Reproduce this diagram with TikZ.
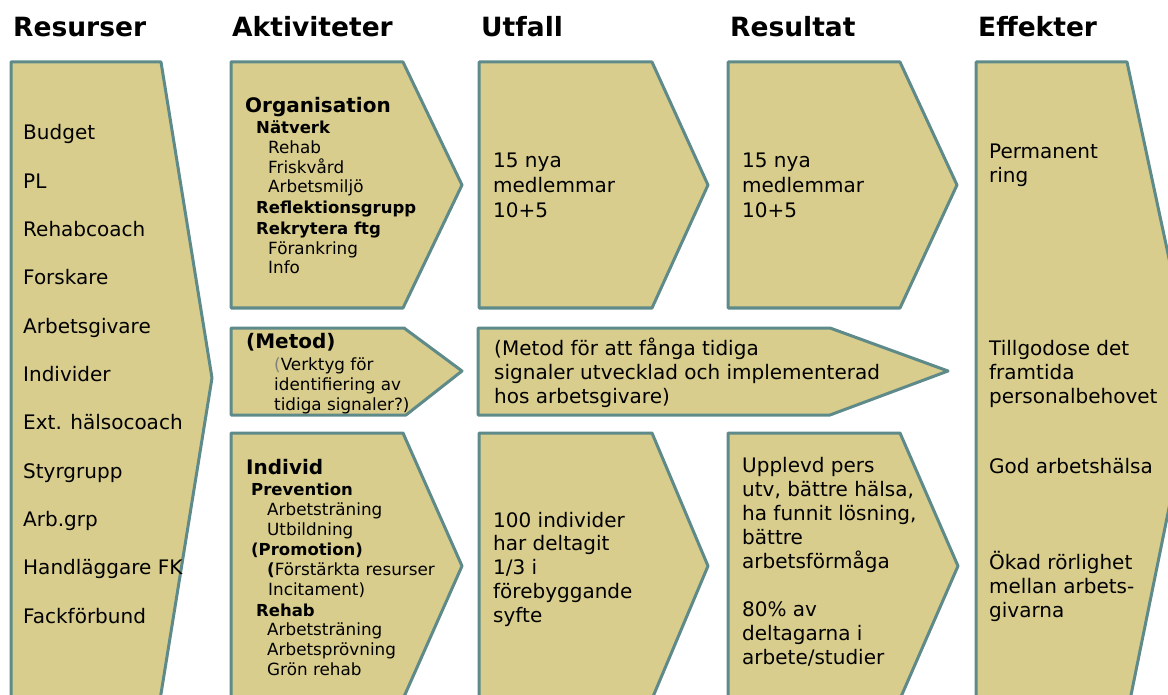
\documentclass[tikz,border=0pt]{standalone}
\usepackage{fontspec}
\setmainfont{DejaVu Sans}
\usepackage{tikz}
\definecolor{fyll}{RGB}{216,205,140}
\definecolor{ram}{RGB}{94,138,138}

\begin{document}
\begin{tikzpicture}[x=1pt,y=-1pt,
	pil/.style={fill=fyll,draw=ram,line width=3pt,line join=round},
	rubrik/.style={anchor=base west,inner sep=0pt,font=\fontsize{26.5}{30}\selectfont\bfseries},
	stor/.style={anchor=base west,inner sep=0pt,font=\fontsize{20}{24}\selectfont},
	storfet/.style={anchor=base west,inner sep=0pt,font=\fontsize{20}{24}\selectfont\bfseries},
	fet/.style={anchor=base west,inner sep=0pt,font=\fontsize{16.5}{20}\selectfont\bfseries},
	liten/.style={anchor=base west,inner sep=0pt,font=\fontsize{16.8}{20}\selectfont}]
				\useasboundingbox (0,0) rectangle (1168,695);
				\clip (0,0) rectangle (1168,695);
				\path (13,37) node[rubrik] (resurser) {Resurser}
				(232,37) node[rubrik] (aktiviteter) {Aktiviteter}
				(481,37) node[rubrik] (utfall) {Utfall}
				(730,37) node[rubrik] (resultat) {Resultat}
				(978,37) node[rubrik] (effekter) {Effekter};
				\draw[pil] (11,62) -- (161,62) -- (212,378) -- (160,700) -- (11,700) -- cycle;
				\draw[pil] (231,62) -- (403,62) -- (462,185) -- (403,308) -- (231,308) -- cycle;
				\draw[pil] (231,328) -- (404,328) -- (462,371) -- (406,415) -- (231,415) -- cycle;
				\draw[pil] (231,433) -- (403,433) -- (462,566) -- (403,699) -- (231,699) -- cycle;
				\draw[pil] (479,62) -- (652,62) -- (708,185) -- (652,308) -- (479,308) -- cycle;
				\draw[pil] (478,328) -- (830,328) -- (948,371) -- (830,415) -- (478,415) -- cycle;
				\draw[pil] (479,433) -- (652,433) -- (708,566) -- (652,699) -- (479,699) -- cycle;
				\draw[pil] (728,62) -- (900,62) -- (957,185) -- (900,308) -- (728,308) -- cycle;
				\draw[pil] (728,433) -- (900,433) -- (958,566) -- (900,699) -- (728,699) -- cycle;
				\draw[pil] (976,62) -- (1127,62) -- (1195,380) -- (1130,700) -- (976,700) -- cycle;
				\foreach \t [count=\i from 0] in {Budget, PL, Rehabcoach, Forskare, Arbetsgivare, Individer, Ext. hälsocoach, Styrgrupp, Arb.grp, Handläggare FK, Fackförbund}
					\node[stor] (res\i) at (23,140+48.3*\i) {\t};
				\path (245,113) node[storfet] (org) {Organisation}
				(256,134) node[fet] (natverk) {Nätverk}
				(268,154) node[liten] (rehab) {Rehab}
				(268,174) node[liten] (friskvard) {Friskvård}
				(268,193) node[liten] (miljo) {Arbetsmiljö}
				(256,214) node[fet] (reflektion) {Reflektionsgrupp}
				(256,235) node[fet] (rekrytera) {Rekrytera ftg}
				(268,255) node[liten] (forankring) {Förankring}
				(268,274) node[liten] (info) {Info};
				\path (246,348) node[storfet] (metod) {(Metod)}
				(274,370) node[liten] (verktyg) {\textcolor{gray}{(}Verktyg för}
				(274,390) node[liten] (identifiering) {identifiering av}
				(274,410) node[liten] (tidiga) {tidiga signaler?)};
				\path (246,474) node[storfet] (individ) {Individ}
				(251,495) node[fet] (prevention) {Prevention}
				(267,515) node[liten] (traning) {Arbetsträning}
				(267,535) node[liten] (utbildning) {Utbildning}
				(251,555) node[fet] (promotion) {(Promotion)}
				(267,575) node[liten] (forstarkta) {\textbf{(}Förstärkta resurser}
				(268,595) node[liten] (incitament) {Incitament)}
				(256,616) node[fet] (rehabfet) {Rehab}
				(267,635) node[liten] (traning2) {Arbetsträning}
				(267,655) node[liten] (provning) {Arbetsprövning}
				(267,675) node[liten] (gron) {Grön rehab};
				\foreach \t [count=\i from 0] in {15 nya, medlemmar, 10+5} {
					\node[stor] (utf\i) at (493,168+25*\i) {\t};
					\node[stor] (rst\i) at (742,168+25*\i) {\t};
				}
				\path (494,355) node[stor] (met0) {(Metod för att fånga tidiga}
				(494,379) node[stor] (met1) {signaler utvecklad och implementerad}
				(494,403) node[stor] (met2) {hos arbetsgivare)};
				\foreach \t [count=\i from 0] in {100 individer, har deltagit, 1/3 i, förebyggande, syfte}
					\node[stor] (utfb\i) at (493,527+23.8*\i) {\t};
				\foreach \t [count=\i from 0] in {Upplevd pers, {utv, bättre hälsa,}, {ha funnit lösning,}, bättre, arbetsförmåga}
					\node[stor] (rsb\i) at (742,472+24*\i) {\t};
				\foreach \t [count=\i from 0] in {80\% av, deltagarna i, arbete/studier}
					\node[stor] (rsc\i) at (742,616+24*\i) {\t};
				\path (989,159) node[stor] (permanent) {Permanent}
				(989,183) node[stor] (ring) {ring}
				(989,355) node[stor] (tillgodose) {Tillgodose det}
				(989,379) node[stor] (framtida) {framtida}
				(989,403) node[stor] (behovet) {personalbehovet}
				(989,473) node[stor] (god) {God arbetshälsa}
				(989,569) node[stor] (okad) {Ökad rörlighet}
				(989,593) node[stor] (mellan) {mellan arbets-}
				(989,617) node[stor] (givarna) {givarna};
			\end{tikzpicture}
\end{document}
